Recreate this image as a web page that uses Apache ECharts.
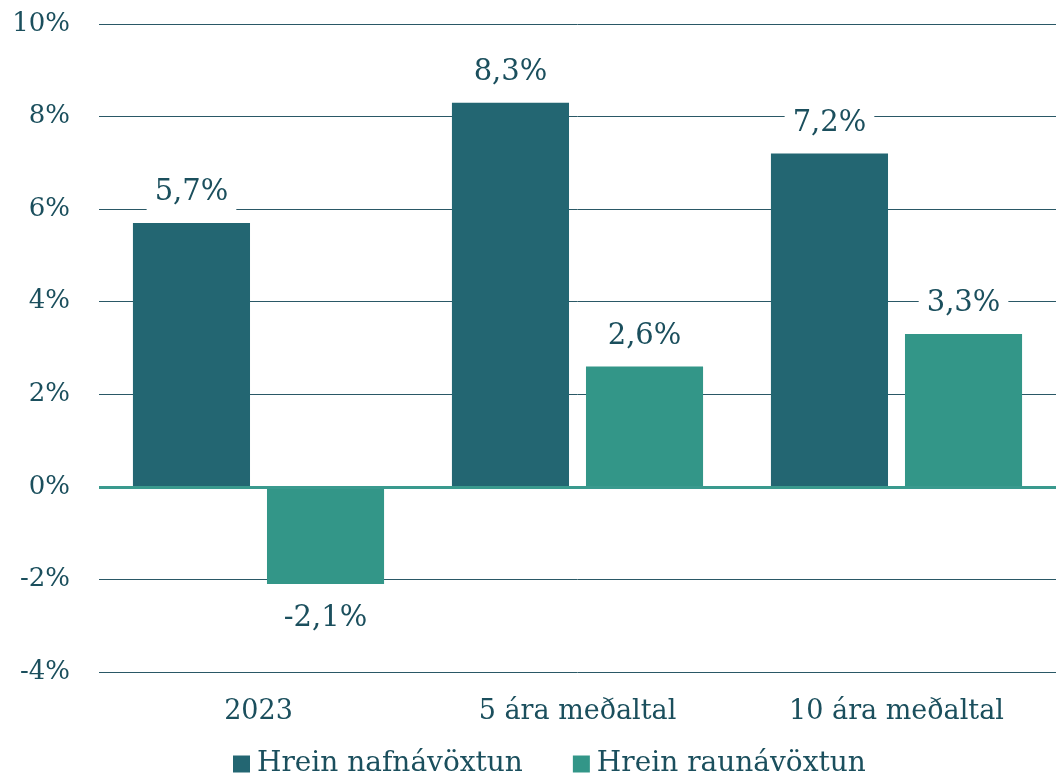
<!DOCTYPE html>
<html>
<head>
<meta charset="utf-8">
<script src="https://cdn.jsdelivr.net/npm/echarts@6/dist/echarts.min.js"></script>
<style>
  html, body { margin: 0; padding: 0; background: #fff; }
  #chart { width: 1056px; height: 784px; }
</style>
</head>
<body>
<div id="chart"></div>
<script>
// flokkar og gildi
var categories = ['2023', '5 ára meðaltal', '10 ára meðaltal'];
var seriesNames = ['Hrein nafnávöxtun', 'Hrein raunávöxtun'];
var nominal = [5.7, 8.3, 7.2];
var real = [-2.1, 2.6, 3.3];

var textColor = '#1b4f5d';
var font = 'DejaVu Serif';

function fmt(v) {
    return v.toFixed(1).replace('.', ',') + '%';
}

function labelled(values) {
    return values.map(function (v) {
        return {
            value: v,
            label: v < 0
                ? { position: 'bottom', distance: 18, padding: [2, 8] }
                : { position: 'top', distance: 8, padding: [2, 8, 8, 8] }
        };
    });
}

var barLabel = {
    show: true,
    color: textColor,
    fontFamily: font,
    fontSize: 29,
    backgroundColor: '#fff',
    formatter: function (p) { return fmt(p.value); }
};

var chart = echarts.init(document.getElementById('chart'));
var option = {
    animation: false,
    textStyle: { fontFamily: font, color: textColor },
    grid: { left: 99, right: 0, top: 24, bottom: 112, outerBoundsMode: 'none', containLabel: false },
    legend: {
        bottom: 1,
        left: 228,
        itemWidth: 17,
        itemHeight: 17,
        itemGap: 50,
        icon: 'rect',
        textStyle: { fontFamily: font, fontSize: 28, color: textColor, padding: [0, 0, 0, 2] },
        data: seriesNames
    },
    xAxis: {
        type: 'category',
        data: categories,
        axisTick: { show: false },
        axisLine: { show: false, onZero: false },
        axisLabel: { fontFamily: font, fontSize: 27, color: textColor, margin: 26 }
    },
    yAxis: {
        type: 'value',
        min: -4,
        max: 10,
        interval: 2,
        axisLine: { show: false },
        axisTick: { show: false },
        axisLabel: {
            fontFamily: font, fontSize: 26, color: textColor, margin: 29,
            formatter: function (v) { return v + '%'; }
        },
        splitLine: { lineStyle: { color: '#2a5866', width: 1 } }
    },
    series: [
        {
            name: seriesNames[0],
            type: 'bar',
            barWidth: '36.7%',
            barGap: '14.5%',
            itemStyle: { color: '#236672' },
            label: barLabel,
            z: 3,
            data: labelled(nominal),
            markLine: {
                silent: true,
                symbol: 'none',
                label: { show: false },
                lineStyle: { color: '#3a9a8e', width: 3, type: 'solid' },
                z: 4,
                data: [{ yAxis: 0 }]
            }
        },
        {
            name: seriesNames[1],
            type: 'bar',
            barWidth: '36.7%',
            itemStyle: { color: '#339688' },
            label: barLabel,
            z: 3,
            data: labelled(real)
        }
    ]
};
chart.setOption(option);
</script>
</body>
</html>
